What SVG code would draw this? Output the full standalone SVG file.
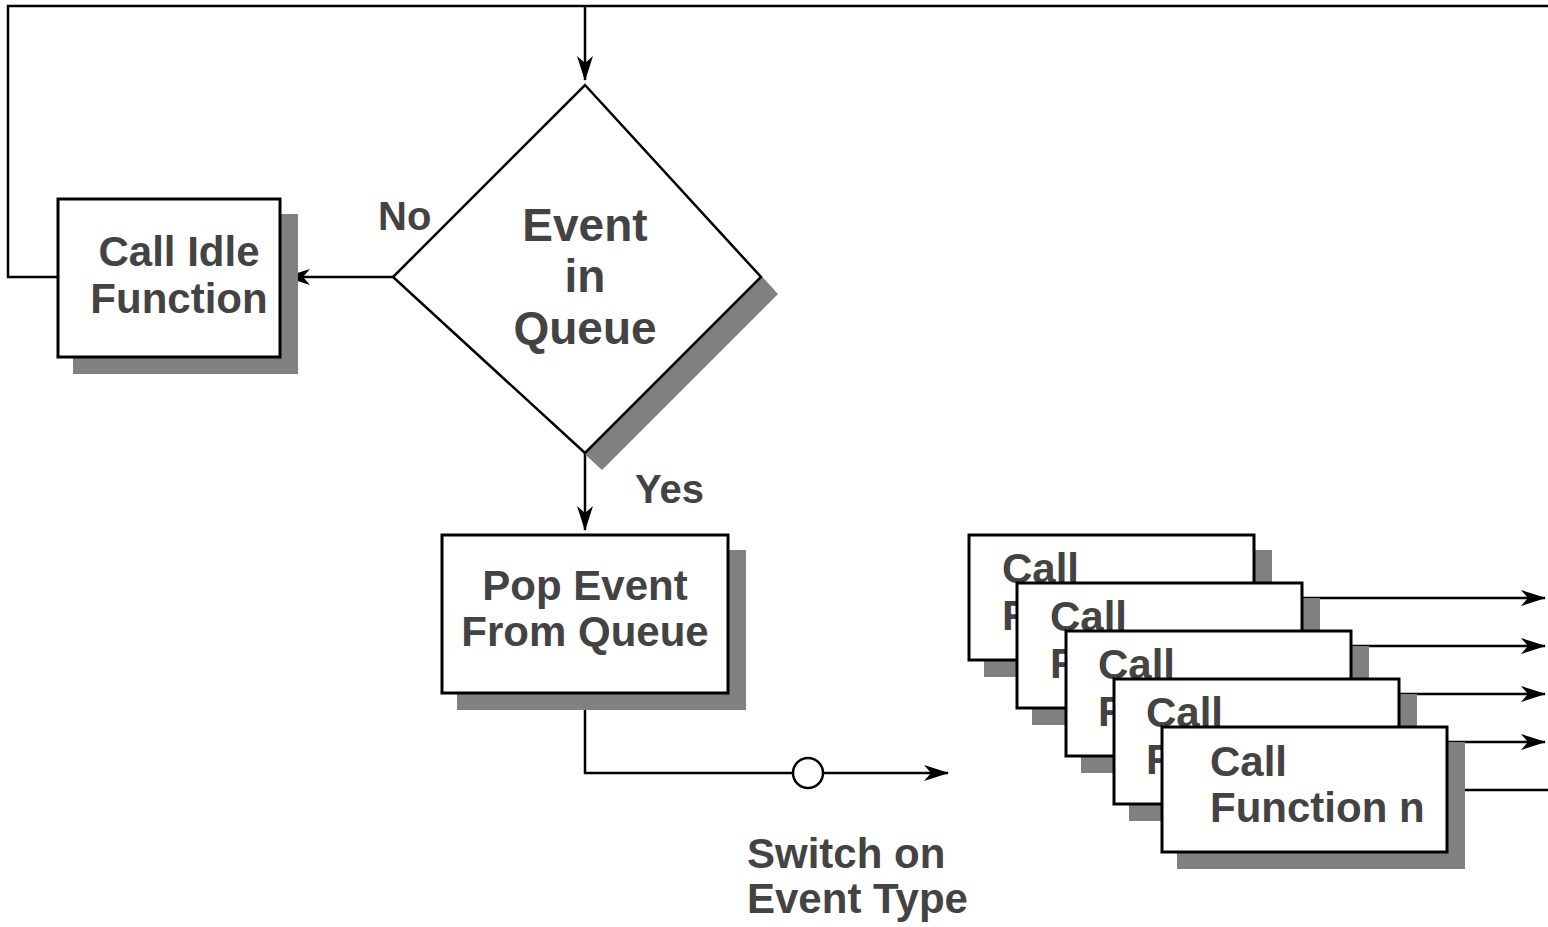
<svg xmlns="http://www.w3.org/2000/svg" width="1548" height="927" viewBox="0 0 1548 927">
  <style>
    .line { fill: none; stroke: #000; stroke-width: 2.5; }
    .box { fill: #fff; stroke: #000; stroke-width: 3; }
    .shadow { fill: #808080; stroke: none; }
    .lbl { font-family: "Liberation Sans", Arial, sans-serif; font-weight: bold; font-size: 42px; fill: #434343; }
    .mid { text-anchor: middle; }
    .big { font-size: 46px; }
    .small { font-size: 40px; }
  </style>
  <defs>
    <marker id="arrow" markerUnits="userSpaceOnUse" markerWidth="30" markerHeight="20" viewBox="-26 -10 30 20" refX="0" refY="0" orient="auto" overflow="visible">
      <path d="M1,0 L-24,-8 L-17,0 L-24,8 Z" fill="#000"/>
    </marker>
  </defs>
  <rect width="1548" height="927" fill="#fff"/>

  <!-- connectors (drawn beneath the nodes) -->
  <g id="connectors">
    <path class="line" d="M58,277 H8 V6 H1552"/>
    <path class="line" d="M585,6 V80" marker-end="url(#arrow)"/>
    <path class="line" d="M393,277 H286" marker-end="url(#arrow)"/>
    <path class="line" d="M585,453 V530" marker-end="url(#arrow)"/>
    <path class="line" d="M585,693 V773 H793"/>
    <circle cx="808" cy="773" r="15" fill="#fff" stroke="#000" stroke-width="2.5"/>
    <path class="line" d="M823,773 H948" marker-end="url(#arrow)"/>
    <path class="line" d="M1254,598 H1545" marker-end="url(#arrow)"/>
    <path class="line" d="M1302,646 H1545" marker-end="url(#arrow)"/>
    <path class="line" d="M1351,694 H1545" marker-end="url(#arrow)"/>
    <path class="line" d="M1399,742 H1545" marker-end="url(#arrow)"/>
    <path class="line" d="M1447,790 H1600" marker-end="url(#arrow)"/>
  </g>

  <!-- decision: event in queue -->
  <g id="decision-event-in-queue">
    <polygon class="shadow" points="602,102 778,294 602,470 410,294"/>
    <polygon fill="#fff" stroke="#000" stroke-width="2.5" points="585,85 761,277 585,453 393,277"/>
    <text class="lbl big mid" x="585" y="241">Event</text>
    <text class="lbl big mid" x="585" y="292">in</text>
    <text class="lbl big mid" x="585" y="344">Queue</text>
  </g>

  <text id="label-no" class="lbl small" x="378" y="230">No</text>
  <text id="label-yes" class="lbl small" x="635" y="503">Yes</text>

  <!-- call idle function -->
  <g id="node-call-idle">
    <rect class="shadow" x="73" y="214" width="225" height="160"/>
    <rect class="box" x="58" y="199" width="222" height="158"/>
    <text class="lbl mid" x="179" y="266">Call Idle</text>
    <text class="lbl mid" x="179" y="313">Function</text>
  </g>

  <!-- pop event from queue -->
  <g id="node-pop-event">
    <rect class="shadow" x="457" y="550" width="289" height="160"/>
    <rect class="box" x="442" y="535" width="286" height="158"/>
    <text class="lbl mid" x="585" y="600">Pop Event</text>
    <text class="lbl mid" x="585" y="646">From Queue</text>
  </g>

  <g id="label-switch">
    <text class="lbl" x="747" y="868">Switch on</text>
    <text class="lbl" x="747" y="913">Event Type</text>
  </g>

  <!-- stack of function calls -->
  <g id="node-call-function-1">
    <rect class="shadow" x="984" y="550" width="288" height="127"/>
    <rect class="box" x="969" y="535" width="285" height="125"/>
    <text class="lbl" x="1002" y="583">Call</text>
    <text class="lbl" x="1002" y="630">F</text>
  </g>
  <g id="node-call-function-2">
    <rect class="shadow" x="1032" y="598" width="288" height="127"/>
    <rect class="box" x="1017" y="583" width="285" height="125"/>
    <text class="lbl" x="1050" y="631">Call</text>
    <text class="lbl" x="1050" y="678">F</text>
  </g>
  <g id="node-call-function-3">
    <rect class="shadow" x="1081" y="646" width="288" height="127"/>
    <rect class="box" x="1066" y="631" width="285" height="125"/>
    <text class="lbl" x="1098" y="679">Call</text>
    <text class="lbl" x="1098" y="726">F</text>
  </g>
  <g id="node-call-function-4">
    <rect class="shadow" x="1129" y="694" width="288" height="127"/>
    <rect class="box" x="1114" y="679" width="285" height="125"/>
    <text class="lbl" x="1146" y="727">Call</text>
    <text class="lbl" x="1146" y="774">F</text>
  </g>
  <g id="node-call-function-n">
    <rect class="shadow" x="1177" y="742" width="288" height="127"/>
    <rect class="box" x="1162" y="727" width="285" height="125"/>
    <text class="lbl" x="1210" y="776">Call</text>
    <text class="lbl" x="1210" y="822">Function n</text>
  </g>
</svg>
